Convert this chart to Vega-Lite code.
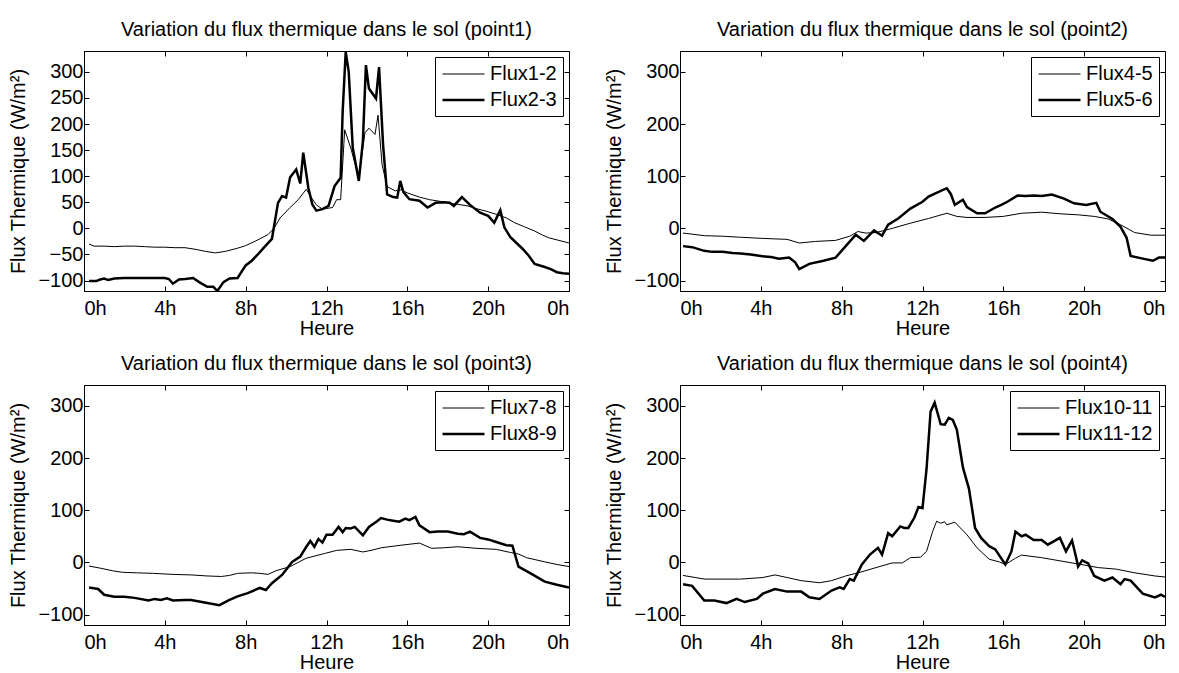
{
"$schema": "https://vega.github.io/schema/vega-lite/v6.json",
"padding": {"left": 8, "top": 19, "right": 5, "bottom": 0},
"background": "white",
"config": {
 "font": "Liberation Sans",
 "view": {"stroke": "black", "strokeWidth": 1},
 "axis": {"grid": false, "labelFont": "Liberation Sans", "titleFont": "Liberation Sans", "labelFontSize": 20, "titleFontSize": 20, "titleFontWeight": "normal", "labelColor": "black", "titleColor": "black", "domainColor": "black", "tickColor": "black", "tickSize": -5},
 "axisX": {"titlePadding": 0, "labelPadding": 12},
 "axisY": {"titlePadding": 9, "labelPadding": 6},
 "title": {"font": "Liberation Sans", "fontSize": 20, "fontWeight": "normal", "color": "black", "offset": 11, "anchor": "middle"},
 "legend": {"orient": "top-right", "offset": 6, "padding": 6, "strokeColor": "black", "fillColor": "white", "cornerRadius": 0, "symbolType": "M-1,0L3,0", "symbolSize": 441, "symbolStrokeColor": "black", "symbolFillColor": "transparent", "labelFont": "Liberation Sans", "labelFontSize": 20, "labelColor": "black", "labelOffset": 25, "rowPadding": 4}
},
"datasets": {"d": [
{"p":1,"s":"Flux1-2","h":0.25,"v":-30},{"p":1,"s":"Flux1-2","h":0.5,"v":-34},{"p":1,"s":"Flux1-2","h":1,"v":-34},{"p":1,"s":"Flux1-2","h":1.5,"v":-35},{"p":1,"s":"Flux1-2","h":2,"v":-34},{"p":1,"s":"Flux1-2","h":2.5,"v":-34},{"p":1,"s":"Flux1-2","h":3,"v":-35},{"p":1,"s":"Flux1-2","h":3.5,"v":-36},{"p":1,"s":"Flux1-2","h":4,"v":-36},{"p":1,"s":"Flux1-2","h":4.5,"v":-37},{"p":1,"s":"Flux1-2","h":5,"v":-37},{"p":1,"s":"Flux1-2","h":5.5,"v":-40},{"p":1,"s":"Flux1-2","h":6,"v":-44},{"p":1,"s":"Flux1-2","h":6.5,"v":-47},{"p":1,"s":"Flux1-2","h":7,"v":-44},{"p":1,"s":"Flux1-2","h":7.6,"v":-38},{"p":1,"s":"Flux1-2","h":8,"v":-33},{"p":1,"s":"Flux1-2","h":8.5,"v":-24},{"p":1,"s":"Flux1-2","h":9.1,"v":-12},{"p":1,"s":"Flux1-2","h":9.4,"v":0},{"p":1,"s":"Flux1-2","h":9.7,"v":20},{"p":1,"s":"Flux1-2","h":10.2,"v":40},{"p":1,"s":"Flux1-2","h":10.6,"v":55},{"p":1,"s":"Flux1-2","h":11,"v":75},{"p":1,"s":"Flux1-2","h":11.2,"v":62},{"p":1,"s":"Flux1-2","h":11.5,"v":45},{"p":1,"s":"Flux1-2","h":11.8,"v":37},{"p":1,"s":"Flux1-2","h":12.3,"v":40},{"p":1,"s":"Flux1-2","h":12.5,"v":55},{"p":1,"s":"Flux1-2","h":12.7,"v":55},{"p":1,"s":"Flux1-2","h":12.9,"v":189},{"p":1,"s":"Flux1-2","h":13.2,"v":154},{"p":1,"s":"Flux1-2","h":13.6,"v":97},{"p":1,"s":"Flux1-2","h":13.9,"v":183},{"p":1,"s":"Flux1-2","h":14.1,"v":192},{"p":1,"s":"Flux1-2","h":14.4,"v":180},{"p":1,"s":"Flux1-2","h":14.55,"v":217},{"p":1,"s":"Flux1-2","h":14.75,"v":122},{"p":1,"s":"Flux1-2","h":15,"v":80},{"p":1,"s":"Flux1-2","h":15.4,"v":72},{"p":1,"s":"Flux1-2","h":15.7,"v":74},{"p":1,"s":"Flux1-2","h":16,"v":68},{"p":1,"s":"Flux1-2","h":16.6,"v":60},{"p":1,"s":"Flux1-2","h":17.1,"v":55},{"p":1,"s":"Flux1-2","h":17.6,"v":52},{"p":1,"s":"Flux1-2","h":18.1,"v":48},{"p":1,"s":"Flux1-2","h":18.5,"v":46},{"p":1,"s":"Flux1-2","h":19,"v":43},{"p":1,"s":"Flux1-2","h":19.4,"v":38},{"p":1,"s":"Flux1-2","h":19.9,"v":33},{"p":1,"s":"Flux1-2","h":20.4,"v":27},{"p":1,"s":"Flux1-2","h":20.9,"v":20},{"p":1,"s":"Flux1-2","h":21.3,"v":11},{"p":1,"s":"Flux1-2","h":21.8,"v":3},{"p":1,"s":"Flux1-2","h":22.3,"v":-5},{"p":1,"s":"Flux1-2","h":22.7,"v":-13},{"p":1,"s":"Flux1-2","h":23,"v":-18},{"p":1,"s":"Flux1-2","h":23.5,"v":-23},{"p":1,"s":"Flux1-2","h":24,"v":-28},
{"p":1,"s":"Flux2-3","h":0.25,"v":-101},{"p":1,"s":"Flux2-3","h":0.6,"v":-101},{"p":1,"s":"Flux2-3","h":0.8,"v":-98},{"p":1,"s":"Flux2-3","h":1,"v":-96},{"p":1,"s":"Flux2-3","h":1.2,"v":-99},{"p":1,"s":"Flux2-3","h":1.5,"v":-96},{"p":1,"s":"Flux2-3","h":2,"v":-95},{"p":1,"s":"Flux2-3","h":2.5,"v":-95},{"p":1,"s":"Flux2-3","h":3,"v":-95},{"p":1,"s":"Flux2-3","h":3.5,"v":-95},{"p":1,"s":"Flux2-3","h":4,"v":-95},{"p":1,"s":"Flux2-3","h":4.2,"v":-97},{"p":1,"s":"Flux2-3","h":4.4,"v":-106},{"p":1,"s":"Flux2-3","h":4.7,"v":-98},{"p":1,"s":"Flux2-3","h":5,"v":-97},{"p":1,"s":"Flux2-3","h":5.4,"v":-95},{"p":1,"s":"Flux2-3","h":5.7,"v":-103},{"p":1,"s":"Flux2-3","h":6.1,"v":-112},{"p":1,"s":"Flux2-3","h":6.4,"v":-112},{"p":1,"s":"Flux2-3","h":6.6,"v":-120},{"p":1,"s":"Flux2-3","h":6.9,"v":-103},{"p":1,"s":"Flux2-3","h":7.2,"v":-96},{"p":1,"s":"Flux2-3","h":7.6,"v":-95},{"p":1,"s":"Flux2-3","h":8,"v":-71},{"p":1,"s":"Flux2-3","h":8.3,"v":-62},{"p":1,"s":"Flux2-3","h":8.6,"v":-50},{"p":1,"s":"Flux2-3","h":8.9,"v":-37},{"p":1,"s":"Flux2-3","h":9.3,"v":-20},{"p":1,"s":"Flux2-3","h":9.6,"v":49},{"p":1,"s":"Flux2-3","h":9.8,"v":62},{"p":1,"s":"Flux2-3","h":10,"v":59},{"p":1,"s":"Flux2-3","h":10.2,"v":98},{"p":1,"s":"Flux2-3","h":10.5,"v":113},{"p":1,"s":"Flux2-3","h":10.7,"v":86},{"p":1,"s":"Flux2-3","h":10.85,"v":145},{"p":1,"s":"Flux2-3","h":11.1,"v":78},{"p":1,"s":"Flux2-3","h":11.3,"v":46},{"p":1,"s":"Flux2-3","h":11.5,"v":34},{"p":1,"s":"Flux2-3","h":11.8,"v":37},{"p":1,"s":"Flux2-3","h":12.1,"v":43},{"p":1,"s":"Flux2-3","h":12.4,"v":81},{"p":1,"s":"Flux2-3","h":12.7,"v":97},{"p":1,"s":"Flux2-3","h":12.8,"v":224},{"p":1,"s":"Flux2-3","h":12.95,"v":338},{"p":1,"s":"Flux2-3","h":13.1,"v":300},{"p":1,"s":"Flux2-3","h":13.3,"v":154},{"p":1,"s":"Flux2-3","h":13.6,"v":91},{"p":1,"s":"Flux2-3","h":13.8,"v":167},{"p":1,"s":"Flux2-3","h":13.95,"v":313},{"p":1,"s":"Flux2-3","h":14.1,"v":268},{"p":1,"s":"Flux2-3","h":14.45,"v":249},{"p":1,"s":"Flux2-3","h":14.6,"v":309},{"p":1,"s":"Flux2-3","h":14.8,"v":160},{"p":1,"s":"Flux2-3","h":15,"v":65},{"p":1,"s":"Flux2-3","h":15.3,"v":60},{"p":1,"s":"Flux2-3","h":15.5,"v":59},{"p":1,"s":"Flux2-3","h":15.65,"v":91},{"p":1,"s":"Flux2-3","h":15.8,"v":70},{"p":1,"s":"Flux2-3","h":16.1,"v":56},{"p":1,"s":"Flux2-3","h":16.6,"v":53},{"p":1,"s":"Flux2-3","h":17,"v":40},{"p":1,"s":"Flux2-3","h":17.4,"v":49},{"p":1,"s":"Flux2-3","h":17.8,"v":50},{"p":1,"s":"Flux2-3","h":18.1,"v":49},{"p":1,"s":"Flux2-3","h":18.3,"v":43},{"p":1,"s":"Flux2-3","h":18.7,"v":60},{"p":1,"s":"Flux2-3","h":19.1,"v":45},{"p":1,"s":"Flux2-3","h":19.6,"v":30},{"p":1,"s":"Flux2-3","h":20,"v":24},{"p":1,"s":"Flux2-3","h":20.3,"v":11},{"p":1,"s":"Flux2-3","h":20.6,"v":35},{"p":1,"s":"Flux2-3","h":20.8,"v":2},{"p":1,"s":"Flux2-3","h":21.1,"v":-17},{"p":1,"s":"Flux2-3","h":21.7,"v":-39},{"p":1,"s":"Flux2-3","h":22,"v":-52},{"p":1,"s":"Flux2-3","h":22.3,"v":-68},{"p":1,"s":"Flux2-3","h":22.8,"v":-74},{"p":1,"s":"Flux2-3","h":23.1,"v":-78},{"p":1,"s":"Flux2-3","h":23.4,"v":-84},{"p":1,"s":"Flux2-3","h":23.7,"v":-86},{"p":1,"s":"Flux2-3","h":24,"v":-87},
{"p":2,"s":"Flux4-5","h":0.15,"v":-9},{"p":2,"s":"Flux4-5","h":0.6,"v":-11},{"p":2,"s":"Flux4-5","h":1.2,"v":-14},{"p":2,"s":"Flux4-5","h":2.1,"v":-15},{"p":2,"s":"Flux4-5","h":3,"v":-17},{"p":2,"s":"Flux4-5","h":4,"v":-19},{"p":2,"s":"Flux4-5","h":4.6,"v":-20},{"p":2,"s":"Flux4-5","h":5.3,"v":-21},{"p":2,"s":"Flux4-5","h":5.9,"v":-28},{"p":2,"s":"Flux4-5","h":6.7,"v":-25},{"p":2,"s":"Flux4-5","h":7.7,"v":-23},{"p":2,"s":"Flux4-5","h":8.4,"v":-15},{"p":2,"s":"Flux4-5","h":8.8,"v":-6},{"p":2,"s":"Flux4-5","h":9.2,"v":-9},{"p":2,"s":"Flux4-5","h":9.7,"v":-8},{"p":2,"s":"Flux4-5","h":10.5,"v":0},{"p":2,"s":"Flux4-5","h":11.4,"v":10},{"p":2,"s":"Flux4-5","h":12.3,"v":19},{"p":2,"s":"Flux4-5","h":13.2,"v":29},{"p":2,"s":"Flux4-5","h":13.7,"v":23},{"p":2,"s":"Flux4-5","h":14.2,"v":21},{"p":2,"s":"Flux4-5","h":15.1,"v":21},{"p":2,"s":"Flux4-5","h":16,"v":23},{"p":2,"s":"Flux4-5","h":16.9,"v":29},{"p":2,"s":"Flux4-5","h":17.9,"v":31},{"p":2,"s":"Flux4-5","h":18.8,"v":28},{"p":2,"s":"Flux4-5","h":19.7,"v":26},{"p":2,"s":"Flux4-5","h":20.5,"v":23},{"p":2,"s":"Flux4-5","h":21.2,"v":18},{"p":2,"s":"Flux4-5","h":21.8,"v":7},{"p":2,"s":"Flux4-5","h":22.5,"v":-8},{"p":2,"s":"Flux4-5","h":23.3,"v":-13},{"p":2,"s":"Flux4-5","h":24,"v":-13},
{"p":2,"s":"Flux5-6","h":0.15,"v":-34},{"p":2,"s":"Flux5-6","h":0.6,"v":-36},{"p":2,"s":"Flux5-6","h":1.2,"v":-43},{"p":2,"s":"Flux5-6","h":1.6,"v":-45},{"p":2,"s":"Flux5-6","h":2.1,"v":-45},{"p":2,"s":"Flux5-6","h":2.6,"v":-47},{"p":2,"s":"Flux5-6","h":3,"v":-48},{"p":2,"s":"Flux5-6","h":3.5,"v":-50},{"p":2,"s":"Flux5-6","h":4,"v":-53},{"p":2,"s":"Flux5-6","h":4.5,"v":-55},{"p":2,"s":"Flux5-6","h":4.9,"v":-58},{"p":2,"s":"Flux5-6","h":5.4,"v":-56},{"p":2,"s":"Flux5-6","h":5.7,"v":-65},{"p":2,"s":"Flux5-6","h":5.9,"v":-78},{"p":2,"s":"Flux5-6","h":6.4,"v":-68},{"p":2,"s":"Flux5-6","h":7.1,"v":-62},{"p":2,"s":"Flux5-6","h":7.7,"v":-56},{"p":2,"s":"Flux5-6","h":8.2,"v":-34},{"p":2,"s":"Flux5-6","h":8.7,"v":-12},{"p":2,"s":"Flux5-6","h":9.1,"v":-24},{"p":2,"s":"Flux5-6","h":9.6,"v":-4},{"p":2,"s":"Flux5-6","h":10,"v":-14},{"p":2,"s":"Flux5-6","h":10.3,"v":7},{"p":2,"s":"Flux5-6","h":10.8,"v":19},{"p":2,"s":"Flux5-6","h":11.4,"v":38},{"p":2,"s":"Flux5-6","h":12,"v":51},{"p":2,"s":"Flux5-6","h":12.3,"v":61},{"p":2,"s":"Flux5-6","h":12.8,"v":70},{"p":2,"s":"Flux5-6","h":13.2,"v":77},{"p":2,"s":"Flux5-6","h":13.4,"v":66},{"p":2,"s":"Flux5-6","h":13.6,"v":45},{"p":2,"s":"Flux5-6","h":14,"v":55},{"p":2,"s":"Flux5-6","h":14.2,"v":41},{"p":2,"s":"Flux5-6","h":14.7,"v":29},{"p":2,"s":"Flux5-6","h":15.1,"v":29},{"p":2,"s":"Flux5-6","h":15.6,"v":40},{"p":2,"s":"Flux5-6","h":15.9,"v":45},{"p":2,"s":"Flux5-6","h":16.2,"v":51},{"p":2,"s":"Flux5-6","h":16.7,"v":63},{"p":2,"s":"Flux5-6","h":17.1,"v":62},{"p":2,"s":"Flux5-6","h":17.5,"v":63},{"p":2,"s":"Flux5-6","h":17.9,"v":62},{"p":2,"s":"Flux5-6","h":18.4,"v":65},{"p":2,"s":"Flux5-6","h":19,"v":57},{"p":2,"s":"Flux5-6","h":19.5,"v":48},{"p":2,"s":"Flux5-6","h":20.1,"v":45},{"p":2,"s":"Flux5-6","h":20.6,"v":49},{"p":2,"s":"Flux5-6","h":20.8,"v":32},{"p":2,"s":"Flux5-6","h":21.4,"v":18},{"p":2,"s":"Flux5-6","h":21.8,"v":3},{"p":2,"s":"Flux5-6","h":22.1,"v":-18},{"p":2,"s":"Flux5-6","h":22.3,"v":-53},{"p":2,"s":"Flux5-6","h":22.9,"v":-58},{"p":2,"s":"Flux5-6","h":23.4,"v":-62},{"p":2,"s":"Flux5-6","h":23.7,"v":-56},{"p":2,"s":"Flux5-6","h":24,"v":-56},
{"p":3,"s":"Flux7-8","h":0.25,"v":-7},{"p":3,"s":"Flux7-8","h":0.8,"v":-11},{"p":3,"s":"Flux7-8","h":1.4,"v":-16},{"p":3,"s":"Flux7-8","h":1.9,"v":-19},{"p":3,"s":"Flux7-8","h":2.6,"v":-20},{"p":3,"s":"Flux7-8","h":3.4,"v":-21},{"p":3,"s":"Flux7-8","h":4.4,"v":-23},{"p":3,"s":"Flux7-8","h":5.3,"v":-24},{"p":3,"s":"Flux7-8","h":6.1,"v":-26},{"p":3,"s":"Flux7-8","h":6.8,"v":-27},{"p":3,"s":"Flux7-8","h":7.2,"v":-25},{"p":3,"s":"Flux7-8","h":7.6,"v":-21},{"p":3,"s":"Flux7-8","h":8.3,"v":-20},{"p":3,"s":"Flux7-8","h":8.7,"v":-21},{"p":3,"s":"Flux7-8","h":9.1,"v":-23},{"p":3,"s":"Flux7-8","h":9.5,"v":-16},{"p":3,"s":"Flux7-8","h":10.2,"v":-8},{"p":3,"s":"Flux7-8","h":10.6,"v":0},{"p":3,"s":"Flux7-8","h":11,"v":8},{"p":3,"s":"Flux7-8","h":11.9,"v":17},{"p":3,"s":"Flux7-8","h":12.5,"v":23},{"p":3,"s":"Flux7-8","h":13.2,"v":25},{"p":3,"s":"Flux7-8","h":13.8,"v":20},{"p":3,"s":"Flux7-8","h":14.2,"v":23},{"p":3,"s":"Flux7-8","h":14.7,"v":28},{"p":3,"s":"Flux7-8","h":15.7,"v":33},{"p":3,"s":"Flux7-8","h":16.6,"v":37},{"p":3,"s":"Flux7-8","h":17.2,"v":27},{"p":3,"s":"Flux7-8","h":17.8,"v":28},{"p":3,"s":"Flux7-8","h":18.5,"v":30},{"p":3,"s":"Flux7-8","h":19.4,"v":27},{"p":3,"s":"Flux7-8","h":20.4,"v":25},{"p":3,"s":"Flux7-8","h":21.1,"v":19},{"p":3,"s":"Flux7-8","h":21.5,"v":16},{"p":3,"s":"Flux7-8","h":21.9,"v":9},{"p":3,"s":"Flux7-8","h":22.8,"v":1},{"p":3,"s":"Flux7-8","h":23.4,"v":-4},{"p":3,"s":"Flux7-8","h":24,"v":-8},
{"p":3,"s":"Flux8-9","h":0.25,"v":-48},{"p":3,"s":"Flux8-9","h":0.7,"v":-51},{"p":3,"s":"Flux8-9","h":1,"v":-62},{"p":3,"s":"Flux8-9","h":1.5,"v":-66},{"p":3,"s":"Flux8-9","h":2,"v":-66},{"p":3,"s":"Flux8-9","h":2.5,"v":-68},{"p":3,"s":"Flux8-9","h":3.2,"v":-73},{"p":3,"s":"Flux8-9","h":3.5,"v":-70},{"p":3,"s":"Flux8-9","h":3.8,"v":-72},{"p":3,"s":"Flux8-9","h":4.1,"v":-69},{"p":3,"s":"Flux8-9","h":4.4,"v":-73},{"p":3,"s":"Flux8-9","h":5,"v":-72},{"p":3,"s":"Flux8-9","h":5.3,"v":-72},{"p":3,"s":"Flux8-9","h":6.1,"v":-78},{"p":3,"s":"Flux8-9","h":6.7,"v":-82},{"p":3,"s":"Flux8-9","h":7.2,"v":-72},{"p":3,"s":"Flux8-9","h":7.6,"v":-65},{"p":3,"s":"Flux8-9","h":8.1,"v":-59},{"p":3,"s":"Flux8-9","h":8.7,"v":-49},{"p":3,"s":"Flux8-9","h":9,"v":-53},{"p":3,"s":"Flux8-9","h":9.3,"v":-40},{"p":3,"s":"Flux8-9","h":9.8,"v":-24},{"p":3,"s":"Flux8-9","h":10.3,"v":1},{"p":3,"s":"Flux8-9","h":10.7,"v":11},{"p":3,"s":"Flux8-9","h":11,"v":30},{"p":3,"s":"Flux8-9","h":11.2,"v":41},{"p":3,"s":"Flux8-9","h":11.4,"v":30},{"p":3,"s":"Flux8-9","h":11.6,"v":45},{"p":3,"s":"Flux8-9","h":11.8,"v":38},{"p":3,"s":"Flux8-9","h":12,"v":53},{"p":3,"s":"Flux8-9","h":12.3,"v":53},{"p":3,"s":"Flux8-9","h":12.6,"v":68},{"p":3,"s":"Flux8-9","h":12.8,"v":58},{"p":3,"s":"Flux8-9","h":12.95,"v":66},{"p":3,"s":"Flux8-9","h":13.2,"v":65},{"p":3,"s":"Flux8-9","h":13.4,"v":68},{"p":3,"s":"Flux8-9","h":13.8,"v":52},{"p":3,"s":"Flux8-9","h":14.1,"v":68},{"p":3,"s":"Flux8-9","h":14.5,"v":79},{"p":3,"s":"Flux8-9","h":14.7,"v":85},{"p":3,"s":"Flux8-9","h":15,"v":82},{"p":3,"s":"Flux8-9","h":15.3,"v":80},{"p":3,"s":"Flux8-9","h":15.6,"v":78},{"p":3,"s":"Flux8-9","h":15.9,"v":84},{"p":3,"s":"Flux8-9","h":16.1,"v":81},{"p":3,"s":"Flux8-9","h":16.4,"v":87},{"p":3,"s":"Flux8-9","h":16.6,"v":71},{"p":3,"s":"Flux8-9","h":17.1,"v":58},{"p":3,"s":"Flux8-9","h":17.5,"v":59},{"p":3,"s":"Flux8-9","h":18,"v":59},{"p":3,"s":"Flux8-9","h":18.5,"v":55},{"p":3,"s":"Flux8-9","h":18.8,"v":54},{"p":3,"s":"Flux8-9","h":19.1,"v":59},{"p":3,"s":"Flux8-9","h":19.6,"v":47},{"p":3,"s":"Flux8-9","h":20,"v":44},{"p":3,"s":"Flux8-9","h":20.4,"v":39},{"p":3,"s":"Flux8-9","h":20.9,"v":33},{"p":3,"s":"Flux8-9","h":21.2,"v":32},{"p":3,"s":"Flux8-9","h":21.5,"v":-8},{"p":3,"s":"Flux8-9","h":22.1,"v":-21},{"p":3,"s":"Flux8-9","h":22.8,"v":-37},{"p":3,"s":"Flux8-9","h":23.4,"v":-43},{"p":3,"s":"Flux8-9","h":24,"v":-48},
{"p":4,"s":"Flux10-11","h":0.15,"v":-25},{"p":4,"s":"Flux10-11","h":1.2,"v":-32},{"p":4,"s":"Flux10-11","h":3,"v":-32},{"p":4,"s":"Flux10-11","h":4.1,"v":-29},{"p":4,"s":"Flux10-11","h":4.7,"v":-24},{"p":4,"s":"Flux10-11","h":5.3,"v":-29},{"p":4,"s":"Flux10-11","h":6,"v":-35},{"p":4,"s":"Flux10-11","h":6.9,"v":-39},{"p":4,"s":"Flux10-11","h":7.5,"v":-35},{"p":4,"s":"Flux10-11","h":8.2,"v":-26},{"p":4,"s":"Flux10-11","h":9,"v":-18},{"p":4,"s":"Flux10-11","h":9.7,"v":-10},{"p":4,"s":"Flux10-11","h":10.5,"v":-1},{"p":4,"s":"Flux10-11","h":11,"v":-1},{"p":4,"s":"Flux10-11","h":11.4,"v":9},{"p":4,"s":"Flux10-11","h":11.9,"v":10},{"p":4,"s":"Flux10-11","h":12.2,"v":21},{"p":4,"s":"Flux10-11","h":12.5,"v":59},{"p":4,"s":"Flux10-11","h":12.7,"v":79},{"p":4,"s":"Flux10-11","h":12.9,"v":75},{"p":4,"s":"Flux10-11","h":13.1,"v":78},{"p":4,"s":"Flux10-11","h":13.2,"v":72},{"p":4,"s":"Flux10-11","h":13.6,"v":77},{"p":4,"s":"Flux10-11","h":14.2,"v":53},{"p":4,"s":"Flux10-11","h":14.7,"v":28},{"p":4,"s":"Flux10-11","h":15.3,"v":6},{"p":4,"s":"Flux10-11","h":15.8,"v":1},{"p":4,"s":"Flux10-11","h":16.1,"v":-4},{"p":4,"s":"Flux10-11","h":16.6,"v":8},{"p":4,"s":"Flux10-11","h":16.9,"v":14},{"p":4,"s":"Flux10-11","h":17.9,"v":9},{"p":4,"s":"Flux10-11","h":18.8,"v":3},{"p":4,"s":"Flux10-11","h":19.7,"v":-3},{"p":4,"s":"Flux10-11","h":20.7,"v":-10},{"p":4,"s":"Flux10-11","h":21.6,"v":-13},{"p":4,"s":"Flux10-11","h":22.5,"v":-20},{"p":4,"s":"Flux10-11","h":23.5,"v":-26},{"p":4,"s":"Flux10-11","h":24,"v":-28},
{"p":4,"s":"Flux11-12","h":0.15,"v":-42},{"p":4,"s":"Flux11-12","h":0.6,"v":-45},{"p":4,"s":"Flux11-12","h":1.2,"v":-73},{"p":4,"s":"Flux11-12","h":1.7,"v":-73},{"p":4,"s":"Flux11-12","h":2.3,"v":-78},{"p":4,"s":"Flux11-12","h":2.8,"v":-70},{"p":4,"s":"Flux11-12","h":3.2,"v":-76},{"p":4,"s":"Flux11-12","h":3.8,"v":-70},{"p":4,"s":"Flux11-12","h":4.1,"v":-60},{"p":4,"s":"Flux11-12","h":4.7,"v":-51},{"p":4,"s":"Flux11-12","h":5.3,"v":-56},{"p":4,"s":"Flux11-12","h":6,"v":-56},{"p":4,"s":"Flux11-12","h":6.4,"v":-67},{"p":4,"s":"Flux11-12","h":6.9,"v":-70},{"p":4,"s":"Flux11-12","h":7.5,"v":-54},{"p":4,"s":"Flux11-12","h":7.9,"v":-48},{"p":4,"s":"Flux11-12","h":8.1,"v":-51},{"p":4,"s":"Flux11-12","h":8.4,"v":-32},{"p":4,"s":"Flux11-12","h":8.6,"v":-35},{"p":4,"s":"Flux11-12","h":9,"v":-4},{"p":4,"s":"Flux11-12","h":9.4,"v":15},{"p":4,"s":"Flux11-12","h":9.8,"v":28},{"p":4,"s":"Flux11-12","h":10,"v":15},{"p":4,"s":"Flux11-12","h":10.3,"v":56},{"p":4,"s":"Flux11-12","h":10.5,"v":50},{"p":4,"s":"Flux11-12","h":10.9,"v":69},{"p":4,"s":"Flux11-12","h":11.1,"v":66},{"p":4,"s":"Flux11-12","h":11.3,"v":66},{"p":4,"s":"Flux11-12","h":11.6,"v":86},{"p":4,"s":"Flux11-12","h":11.8,"v":106},{"p":4,"s":"Flux11-12","h":12,"v":104},{"p":4,"s":"Flux11-12","h":12.2,"v":179},{"p":4,"s":"Flux11-12","h":12.4,"v":289},{"p":4,"s":"Flux11-12","h":12.6,"v":306},{"p":4,"s":"Flux11-12","h":12.9,"v":265},{"p":4,"s":"Flux11-12","h":13.1,"v":264},{"p":4,"s":"Flux11-12","h":13.3,"v":277},{"p":4,"s":"Flux11-12","h":13.5,"v":273},{"p":4,"s":"Flux11-12","h":13.7,"v":254},{"p":4,"s":"Flux11-12","h":14,"v":182},{"p":4,"s":"Flux11-12","h":14.3,"v":141},{"p":4,"s":"Flux11-12","h":14.6,"v":66},{"p":4,"s":"Flux11-12","h":14.9,"v":47},{"p":4,"s":"Flux11-12","h":15.3,"v":31},{"p":4,"s":"Flux11-12","h":15.6,"v":25},{"p":4,"s":"Flux11-12","h":16.1,"v":-4},{"p":4,"s":"Flux11-12","h":16.4,"v":21},{"p":4,"s":"Flux11-12","h":16.6,"v":59},{"p":4,"s":"Flux11-12","h":16.9,"v":50},{"p":4,"s":"Flux11-12","h":17.1,"v":53},{"p":4,"s":"Flux11-12","h":17.5,"v":43},{"p":4,"s":"Flux11-12","h":17.9,"v":43},{"p":4,"s":"Flux11-12","h":18.2,"v":34},{"p":4,"s":"Flux11-12","h":18.8,"v":47},{"p":4,"s":"Flux11-12","h":19.1,"v":21},{"p":4,"s":"Flux11-12","h":19.4,"v":42},{"p":4,"s":"Flux11-12","h":19.6,"v":10},{"p":4,"s":"Flux11-12","h":19.7,"v":-8},{"p":4,"s":"Flux11-12","h":19.9,"v":4},{"p":4,"s":"Flux11-12","h":20.2,"v":-2},{"p":4,"s":"Flux11-12","h":20.5,"v":-26},{"p":4,"s":"Flux11-12","h":21,"v":-35},{"p":4,"s":"Flux11-12","h":21.4,"v":-29},{"p":4,"s":"Flux11-12","h":21.8,"v":-42},{"p":4,"s":"Flux11-12","h":22,"v":-32},{"p":4,"s":"Flux11-12","h":22.3,"v":-35},{"p":4,"s":"Flux11-12","h":22.9,"v":-60},{"p":4,"s":"Flux11-12","h":23.5,"v":-67},{"p":4,"s":"Flux11-12","h":23.8,"v":-62},{"p":4,"s":"Flux11-12","h":24,"v":-66}
]},
"columns": 2,
"spacing": {"row": 14, "column": 34},
"resolve": {"scale": {"strokeWidth": "independent"}, "legend": {"strokeWidth": "independent"}},
"concat": [
 {"width": 485, "height": 240,
  "title": "Variation du flux thermique dans le sol (point1)",
  "data": {"name": "d"},
  "transform": [{"filter": "datum.p == 1"}],
  "layer": [
   {"mark": {"type": "line", "color": "black", "clip": true},
    "encoding": {
     "x": {"field": "h", "type": "quantitative", "scale": {"domain": [0, 24], "nice": false}, "axis": {"values": [0, 4, 8, 12, 16, 20, 24], "labelExpr": "(datum.value % 24) + 'h'", "title": "Heure"}},
     "y": {"field": "v", "type": "quantitative", "scale": {"domain": [-120, 340], "nice": false, "zero": false}, "axis": {"values": [-100, -50, 0, 50, 100, 150, 200, 250, 300], "title": "Flux Thermique (W/m²)"}},
     "strokeWidth": {"field": "s", "type": "nominal", "scale": {"domain": ["Flux1-2", "Flux2-3"], "range": [1, 2.5]}, "legend": {"title": null}}
    }},
   {"mark": {"type": "line", "opacity": 0},
    "encoding": {
     "x": {"field": "h", "type": "quantitative", "scale": {"domain": [0, 24], "nice": false}, "axis": {"orient": "top", "values": [0, 4, 8, 12, 16, 20, 24], "labels": false, "title": null, "domain": false}},
     "y": {"field": "v", "type": "quantitative", "scale": {"domain": [-120, 340], "nice": false, "zero": false}, "axis": {"orient": "right", "values": [-100, -50, 0, 50, 100, 150, 200, 250, 300], "labels": false, "title": null, "domain": false}}
    }}
  ],
  "resolve": {"axis": {"x": "independent", "y": "independent"}}
 },
 {"width": 485, "height": 240,
  "title": "Variation du flux thermique dans le sol (point2)",
  "data": {"name": "d"},
  "transform": [{"filter": "datum.p == 2"}],
  "layer": [
   {"mark": {"type": "line", "color": "black", "clip": true},
    "encoding": {
     "x": {"field": "h", "type": "quantitative", "scale": {"domain": [0, 24], "nice": false}, "axis": {"values": [0, 4, 8, 12, 16, 20, 24], "labelExpr": "(datum.value % 24) + 'h'", "title": "Heure"}},
     "y": {"field": "v", "type": "quantitative", "scale": {"domain": [-120, 340], "nice": false, "zero": false}, "axis": {"values": [-100, 0, 100, 200, 300], "title": "Flux Thermique (W/m²)"}},
     "strokeWidth": {"field": "s", "type": "nominal", "scale": {"domain": ["Flux4-5", "Flux5-6"], "range": [1, 2.5]}, "legend": {"title": null}}
    }},
   {"mark": {"type": "line", "opacity": 0},
    "encoding": {
     "x": {"field": "h", "type": "quantitative", "scale": {"domain": [0, 24], "nice": false}, "axis": {"orient": "top", "values": [0, 4, 8, 12, 16, 20, 24], "labels": false, "title": null, "domain": false}},
     "y": {"field": "v", "type": "quantitative", "scale": {"domain": [-120, 340], "nice": false, "zero": false}, "axis": {"orient": "right", "values": [-100, 0, 100, 200, 300], "labels": false, "title": null, "domain": false}}
    }}
  ],
  "resolve": {"axis": {"x": "independent", "y": "independent"}}
 },
 {"width": 485, "height": 240,
  "title": "Variation du flux thermique dans le sol (point3)",
  "data": {"name": "d"},
  "transform": [{"filter": "datum.p == 3"}],
  "layer": [
   {"mark": {"type": "line", "color": "black", "clip": true},
    "encoding": {
     "x": {"field": "h", "type": "quantitative", "scale": {"domain": [0, 24], "nice": false}, "axis": {"values": [0, 4, 8, 12, 16, 20, 24], "labelExpr": "(datum.value % 24) + 'h'", "title": "Heure"}},
     "y": {"field": "v", "type": "quantitative", "scale": {"domain": [-120, 340], "nice": false, "zero": false}, "axis": {"values": [-100, 0, 100, 200, 300], "title": "Flux Thermique (W/m²)"}},
     "strokeWidth": {"field": "s", "type": "nominal", "scale": {"domain": ["Flux7-8", "Flux8-9"], "range": [1, 2.5]}, "legend": {"title": null}}
    }},
   {"mark": {"type": "line", "opacity": 0},
    "encoding": {
     "x": {"field": "h", "type": "quantitative", "scale": {"domain": [0, 24], "nice": false}, "axis": {"orient": "top", "values": [0, 4, 8, 12, 16, 20, 24], "labels": false, "title": null, "domain": false}},
     "y": {"field": "v", "type": "quantitative", "scale": {"domain": [-120, 340], "nice": false, "zero": false}, "axis": {"orient": "right", "values": [-100, 0, 100, 200, 300], "labels": false, "title": null, "domain": false}}
    }}
  ],
  "resolve": {"axis": {"x": "independent", "y": "independent"}}
 },
 {"width": 485, "height": 240,
  "title": "Variation du flux thermique dans le sol (point4)",
  "data": {"name": "d"},
  "transform": [{"filter": "datum.p == 4"}],
  "layer": [
   {"mark": {"type": "line", "color": "black", "clip": true},
    "encoding": {
     "x": {"field": "h", "type": "quantitative", "scale": {"domain": [0, 24], "nice": false}, "axis": {"values": [0, 4, 8, 12, 16, 20, 24], "labelExpr": "(datum.value % 24) + 'h'", "title": "Heure"}},
     "y": {"field": "v", "type": "quantitative", "scale": {"domain": [-120, 340], "nice": false, "zero": false}, "axis": {"values": [-100, 0, 100, 200, 300], "title": "Flux Thermique (W/m²)"}},
     "strokeWidth": {"field": "s", "type": "nominal", "scale": {"domain": ["Flux10-11", "Flux11-12"], "range": [1, 2.5]}, "legend": {"title": null}}
    }},
   {"mark": {"type": "line", "opacity": 0},
    "encoding": {
     "x": {"field": "h", "type": "quantitative", "scale": {"domain": [0, 24], "nice": false}, "axis": {"orient": "top", "values": [0, 4, 8, 12, 16, 20, 24], "labels": false, "title": null, "domain": false}},
     "y": {"field": "v", "type": "quantitative", "scale": {"domain": [-120, 340], "nice": false, "zero": false}, "axis": {"orient": "right", "values": [-100, 0, 100, 200, 300], "labels": false, "title": null, "domain": false}}
    }}
  ],
  "resolve": {"axis": {"x": "independent", "y": "independent"}}
 }
]
}
